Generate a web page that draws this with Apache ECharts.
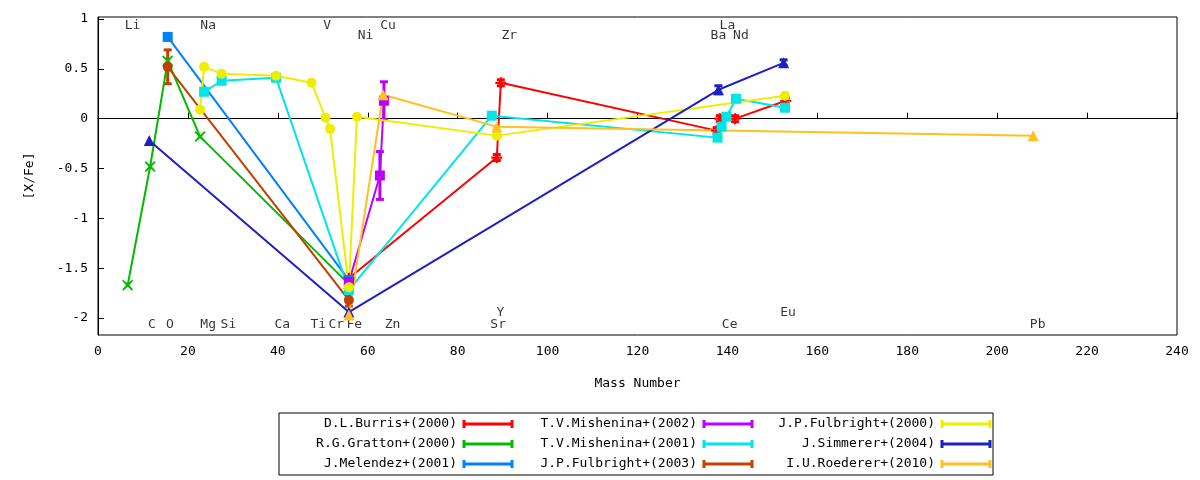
<!DOCTYPE html>
<html>
<head>
<meta charset="utf-8">
<script src="https://cdn.jsdelivr.net/npm/echarts@6/dist/echarts.min.js"></script>
<style>html,body{margin:0;background:#fff}#main{width:1200px;height:480px}</style>
</head>
<body>
<div id="main"></div>
<script>
// [mass, [X/Fe], error]
var burris = [[55.8, -1.6, 0], [88.7, -0.39, 0.03], [89.6, 0.36, 0.03], [137.6, -0.12, 0.03], [138.3, 0.0, 0.03], [141.7, 0.0, 0.03], [153, 0.18, 0.03]];
var gratton = [[6.6, -1.67, 0], [11.6, -0.48, 0], [15.5, 0.58, 0], [22.7, -0.18, 0], [55.8, -1.66, 0]];
var melendez = [[15.5, 0.82, 0], [55.8, -1.62, 0]];
var mishenina02 = [[55.8, -1.64, 0], [62.7, -0.57, 0.24], [63.6, 0.18, 0.19]];
var mishenina01 = [[23.6, 0.27, 0], [27.5, 0.38, 0], [39.6, 0.41, 0], [55.8, -1.72, 0], [87.6, 0.03, 0], [137.8, -0.19, 0], [138.7, -0.08, 0], [139.8, 0.02, 0], [141.9, 0.2, 0], [152.8, 0.11, 0]];
var fulbright03 = [[15.5, 0.52, 0.17], [55.8, -1.82, 0.06]];
var fulbright00 = [[22.7, 0.09, 0], [23.6, 0.52, 0], [27.5, 0.45, 0], [39.6, 0.43, 0], [47.5, 0.36, 0], [50.6, 0.01, 0], [51.6, -0.1, 0], [55.8, -1.69, 0], [57.6, 0.02, 0], [88.7, -0.17, 0], [152.8, 0.23, 0]];
var simmerer = [[11.4, -0.22, 0], [55.8, -1.94, 0], [138, 0.29, 0.04], [152.5, 0.56, 0.03]];
var roederer = [[55.8, -1.97, 0], [63.4, 0.24, 0], [88.7, -0.08, 0], [208, -0.17, 0]];

var topElements = [['Li', 7.7, 0.93], ['Na', 24.5, 0.93], ['V', 51, 0.93], ['Ni', 59.5, 0.83], ['Cu', 64.5, 0.93], ['Zr', 91.5, 0.83], ['La', 140, 0.93], ['Ba', 138, 0.83], ['Nd', 143, 0.83]];
var bottomElements = [['C', 12, -2.07], ['O', 16, -2.07], ['Mg', 24.5, -2.07], ['Si', 29, -2.07], ['Ca', 41, -2.07], ['Ti', 49, -2.07], ['Cr', 53, -2.07], ['Fe', 57, -2.07], ['Zn', 65.5, -2.07], ['Y', 89.5, -1.95], ['Sr', 89, -2.07], ['Ce', 140.5, -2.07], ['Eu', 153.5, -1.95], ['Pb', 209, -2.07]];
var yTicks = [-2, -1.5, -1, -0.5, 0, 0.5, 1];

var plusPath = 'path://M4,0H6V4H10V6H6V10H4V6H0V4H4Z';
var xPath = 'path://M1,0L5,3.5L9,0L10,1L6.5,5L10,9L9,10L5,6.5L1,10L0,9L3.5,5L0,1Z';

var seriesDefs = [
    {name: 'D.L.Burris+(2000)', data: burris, color: '#ff0000', symbol: plusPath, size: 11},
    {name: 'R.G.Gratton+(2000)', data: gratton, color: '#00bb00', symbol: xPath, size: 11},
    {name: 'J.Melendez+(2001)', data: melendez, color: '#0080ff', symbol: 'rect', size: 10},
    {name: 'T.V.Mishenina+(2002)', data: mishenina02, color: '#bb00ff', symbol: 'rect', size: 10},
    {name: 'T.V.Mishenina+(2001)', data: mishenina01, color: '#00e5e5', symbol: 'rect', size: 10},
    {name: 'J.P.Fulbright+(2003)', data: fulbright03, color: '#c04000', symbol: 'circle', size: 10},
    {name: 'J.P.Fulbright+(2000)', data: fulbright00, color: '#eeee00', symbol: 'circle', size: 10},
    {name: 'J.Simmerer+(2004)', data: simmerer, color: '#2020c0', symbol: 'triangle', size: 11},
    {name: 'I.U.Roederer+(2010)', data: roederer, color: '#ffc020', symbol: 'triangle', size: 11}
];

var font = 'DejaVu Sans Mono';
var series = [];
seriesDefs.forEach(function (d) {
    series.push({
        name: d.name, type: 'line', data: d.data.map(function (p) { return [p[0], p[1]]; }),
        symbol: d.symbol, symbolSize: d.size, showAllSymbol: true,
        lineStyle: {color: d.color, width: 2}, itemStyle: {color: d.color}, z: 3
    });
    series.push({
        type: 'custom', silent: true, z: 2,
        data: d.data.filter(function (p) { return p[2] > 0; }),
        renderItem: function (params, api) {
            var x = api.value(0), y = api.value(1), e = api.value(2);
            var hi = api.coord([x, y + e]), lo = api.coord([x, y - e]);
            var st = {stroke: d.color, lineWidth: 3};
            return {type: 'group', children: [
                {type: 'line', shape: {x1: hi[0], y1: hi[1], x2: lo[0], y2: lo[1]}, style: st},
                {type: 'line', shape: {x1: hi[0] - 4, y1: hi[1], x2: hi[0] + 4, y2: hi[1]}, style: st},
                {type: 'line', shape: {x1: lo[0] - 4, y1: lo[1], x2: lo[0] + 4, y2: lo[1]}, style: st}
            ]};
        }
    });
});
series.push({
    type: 'scatter', silent: true, symbolSize: 0,
    data: topElements.concat(bottomElements).map(function (e) { return {value: [e[1], e[2]], name: e[0]}; }),
    label: {show: true, position: 'inside', formatter: '{b}', color: '#000', fontFamily: font, fontSize: 13}
});

// legend drawn as graphic, gnuplot style
var graphic = [{type: 'rect', shape: {x: 279, y: 413, width: 714, height: 62}, style: {fill: 'none', stroke: '#000', lineWidth: 1}}];
var colText = [457, 697, 935];
seriesDefs.forEach(function (d, i) {
    var col = Math.floor(i / 3), row = i % 3;
    var ty = 424 + row * 20, tx = colText[col];
    graphic.push({type: 'text', style: {text: d.name, x: tx, y: ty, align: 'right', verticalAlign: 'middle', font: '13px ' + font, fill: '#000'}});
    graphic.push({type: 'line', shape: {x1: tx + 7, y1: ty, x2: tx + 55, y2: ty}, style: {stroke: d.color, lineWidth: 3}});
    graphic.push({type: 'line', shape: {x1: tx + 7, y1: ty - 4, x2: tx + 7, y2: ty + 4}, style: {stroke: d.color, lineWidth: 3}});
    graphic.push({type: 'line', shape: {x1: tx + 55, y1: ty - 4, x2: tx + 55, y2: ty + 4}, style: {stroke: d.color, lineWidth: 3}});
});

var chart = echarts.init(document.getElementById('main'));
chart.setOption({
    animation: false,
    grid: {left: 98, right: 23, top: 17, bottom: 145, show: true, borderColor: '#000', borderWidth: 1},
    xAxis: {
        type: 'value', min: 0, max: 240, interval: 20,
        name: 'Mass Number', nameLocation: 'middle', nameGap: 42,
        nameTextStyle: {fontFamily: font, fontSize: 13, color: '#000'},
        axisLine: {lineStyle: {color: '#000'}}, axisTick: {inside: true, length: 6, lineStyle: {color: '#000'}},
        axisLabel: {fontFamily: font, fontSize: 13, color: '#000', margin: 10},
        splitLine: {show: false}
    },
    yAxis: {
        type: 'value', min: -2.17, max: 1.02,
        name: '[X/Fe]', nameLocation: 'middle', nameGap: 62, nameRotate: 90,
        nameTextStyle: {fontFamily: font, fontSize: 13, color: '#000'},
        axisLine: {lineStyle: {color: '#000'}},
        axisTick: {inside: true, length: 6, customValues: yTicks, lineStyle: {color: '#000'}},
        axisLabel: {fontFamily: font, fontSize: 13, color: '#000', customValues: yTicks, margin: 10},
        splitLine: {show: false}
    },
    graphic: graphic,
    series: series
});
</script>
</body>
</html>
